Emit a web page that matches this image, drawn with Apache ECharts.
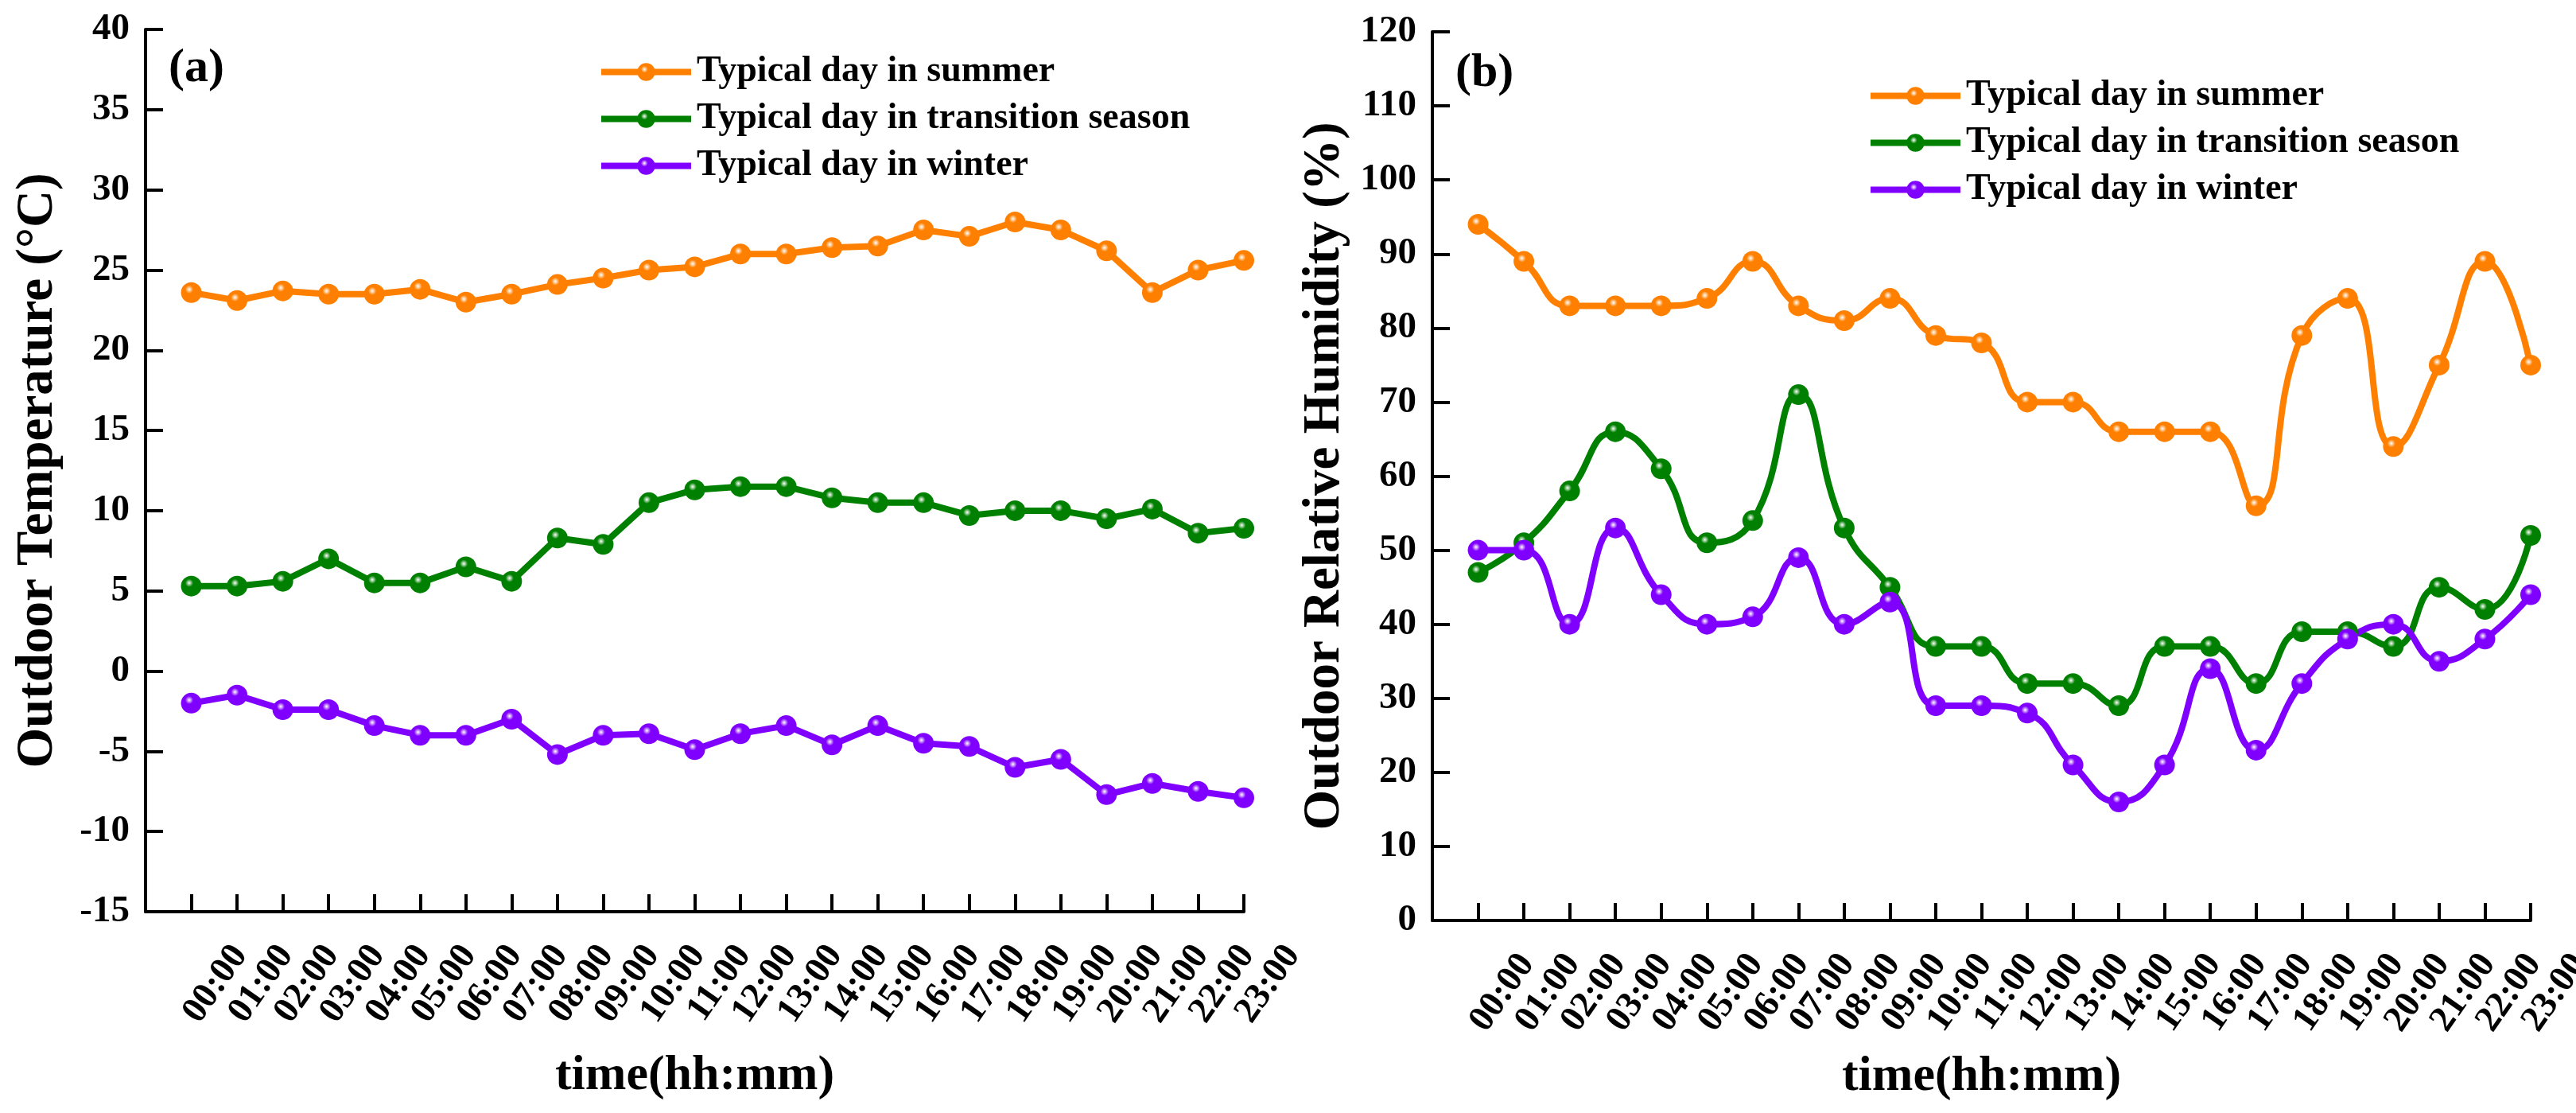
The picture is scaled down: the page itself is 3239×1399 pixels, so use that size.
<html lang="en">
<head>
    <meta charset="UTF-8">
    <title>Typical day outdoor temperature and humidity</title>
    <script src="https://cdn.jsdelivr.net/npm/echarts@6/dist/echarts.min.js"></script>
</head>
<style>
    body { margin: 0; background: #fff; }
    #container { width: 3239px; height: 1399px; }
</style>
<body>
<div id="container"></div>
<script>
    var chart = echarts.init(document.getElementById('container'));

    // tick labels for the hour axis
    var hours = ['00:00', '01:00', '02:00', '03:00', '04:00', '05:00', '06:00', '07:00',
        '08:00', '09:00', '10:00', '11:00', '12:00', '13:00', '14:00', '15:00',
        '16:00', '17:00', '18:00', '19:00', '20:00', '21:00', '22:00', '23:00'];

    var seriesNames = ['Typical day in summer', 'Typical day in transition season', 'Typical day in winter'];

    // (a) outdoor temperature, °C
    var tempSummer = [23.6, 23.1, 23.7, 23.5, 23.5, 23.8, 23.0, 23.5, 24.1, 24.5, 25.0, 25.2,
        26.0, 26.0, 26.4, 26.5, 27.5, 27.1, 28.0, 27.5, 26.2, 23.6, 25.0, 25.6];
    var tempTransition = [5.3, 5.3, 5.6, 7.0, 5.5, 5.5, 6.5, 5.6, 8.3, 7.9, 10.5, 11.3,
        11.5, 11.5, 10.8, 10.5, 10.5, 9.7, 10.0, 10.0, 9.5, 10.1, 8.6, 8.9];
    var tempWinter = [-2.0, -1.5, -2.4, -2.4, -3.4, -4.0, -4.0, -3.0, -5.2, -4.0, -3.9, -4.9,
        -3.9, -3.4, -4.6, -3.4, -4.5, -4.7, -6.0, -5.5, -7.7, -7.0, -7.5, -7.9];

    // (b) outdoor relative humidity, %
    var rhSummer = [94, 89, 83, 83, 83, 84, 89, 83, 81, 84, 79, 78,
        70, 70, 66, 66, 66, 56, 79, 84, 64, 75, 89, 75];
    var rhTransition = [47, 51, 58, 66, 61, 51, 54, 71, 53, 45, 37, 37,
        32, 32, 29, 37, 37, 32, 39, 39, 37, 45, 42, 52];
    var rhWinter = [50, 50, 40, 53, 44, 40, 41, 49, 40, 43, 29, 29,
        28, 21, 16, 21, 34, 23, 32, 38, 40, 35, 38, 44];

    var colors = ['#ff8000', '#008000', '#8000ff'];
    var font = '"Liberation Serif", "Times New Roman", serif';

    // the axis starts one empty slot before 00:00
    var axisCategories = [''].concat(hours);

    function pairs(values)
    {
        return values.map(function (v, i) { return [hours[i], v]; });
    }

    // shaded ball marker
    function ball(c)
    {
        return {
            type: 'radial', x: 0.4, y: 0.35, r: 0.65,
            colorStops: [
                {offset: 0, color: '#ffffff'},
                {offset: 0.3, color: c},
                {offset: 1, color: c}
            ]
        };
    }

    function lineSeries(name, values, idx, axis, smooth)
    {
        return {
            name: name,
            type: 'line',
            xAxisIndex: axis,
            yAxisIndex: axis,
            data: pairs(values),
            smooth: smooth,
            symbol: 'circle',
            symbolSize: 26,
            lineStyle: {color: colors[idx], width: 8},
            itemStyle: {color: ball(colors[idx])},
            animation: false
        };
    }

    function xAxis(grid, nameGap)
    {
        return {
            type: 'category',
            gridIndex: grid,
            data: axisCategories,
            boundaryGap: false,
            name: 'time(hh:mm)',
            nameLocation: 'middle',
            nameGap: nameGap,
            nameTextStyle: {fontFamily: font, fontWeight: 'bold', fontSize: 62, color: '#000'},
            axisLine: {onZero: false, lineStyle: {color: '#000', width: 4}},
            axisTick: {inside: true, length: 22, interval: 0, lineStyle: {color: '#000', width: 4}},
            splitLine: {show: false},
            axisLabel: {
                rotate: 55,
                margin: 4,
                interval: 0,
                verticalAlign: 'top',
                padding: [52, 0, 0, 0],
                fontFamily: font,
                fontWeight: 'bold',
                fontSize: 46,
                color: '#000'
            }
        };
    }

    function yAxis(grid, min, max, step, name)
    {
        return {
            type: 'value',
            gridIndex: grid,
            min: min,
            max: max,
            interval: step,
            name: name,
            nameLocation: 'middle',
            nameGap: 102,
            nameTextStyle: {fontFamily: font, fontWeight: 'bold', fontSize: 65, color: '#000'},
            axisLine: {show: true, onZero: false, lineStyle: {color: '#000', width: 4}},
            axisTick: {show: true, inside: true, length: 22, lineStyle: {color: '#000', width: 4}},
            splitLine: {show: false},
            axisLabel: {margin: 20, fontFamily: font, fontWeight: 'bold', fontSize: 47, color: '#000'}
        };
    }

    function legend(left, top)
    {
        return {
            orient: 'vertical',
            left: left,
            top: top,
            itemWidth: 113,
            itemHeight: 28,
            itemGap: 12,
            data: seriesNames,
            selectedMode: false,
            lineStyle: {width: 8},
            textStyle: {fontFamily: font, fontWeight: 'bold', fontSize: 46, lineHeight: 47, color: '#000', padding: [0, 0, 0, 2]}
        };
    }

    var option = {
        backgroundColor: '#fff',
        grid: [
            {left: 183, top: 37, right: 1675, bottom: 253, containLabel: false, outerBoundsMode: 'none'},
            {left: 1801, top: 40, right: 57, bottom: 242, containLabel: false, outerBoundsMode: 'none'}
        ],
        legend: [legend(747, 62), legend(2343, 92)],
        graphic: [
            {type: 'text', left: 212, top: 56, style: {text: '(a)', fontFamily: font, fontWeight: 'bold', fontSize: 60, fill: '#000'}},
            {type: 'text', left: 1830, top: 62, style: {text: '(b)', fontFamily: font, fontWeight: 'bold', fontSize: 60, fill: '#000'}}
        ],
        xAxis: [xAxis(0, 176), xAxis(1, 166)],
        yAxis: [
            yAxis(0, -15, 40, 5, 'Outdoor Temperature (°C)'),
            yAxis(1, 0, 120, 10, 'Outdoor Relative Humidity (%)')
        ],
        series: [
            lineSeries(seriesNames[0], tempSummer, 0, 0, false),
            lineSeries(seriesNames[1], tempTransition, 1, 0, false),
            lineSeries(seriesNames[2], tempWinter, 2, 0, false),
            lineSeries(seriesNames[0], rhSummer, 0, 1, 0.5),
            lineSeries(seriesNames[1], rhTransition, 1, 1, 0.5),
            lineSeries(seriesNames[2], rhWinter, 2, 1, 0.5)
        ]
    };

    chart.setOption(option);
</script>
</body>
</html>
